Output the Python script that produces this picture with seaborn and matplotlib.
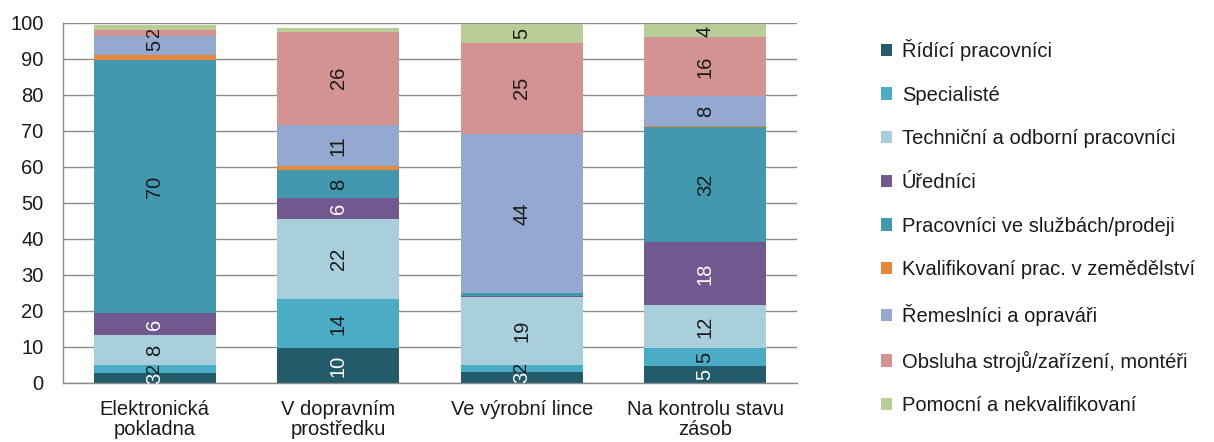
import numpy as np
import matplotlib
matplotlib.use("Agg")
import matplotlib.pyplot as plt
from matplotlib.patches import Patch
import seaborn as sns

# categories (x axis)
categories = ["Elektronická\npokladna", "V dopravním\nprostředku",
              "Ve výrobní lince", "Na kontrolu stavu\nzásob"]

# series names (legend order, bottom -> top in the stack)
series_names = [
    "Řídící pracovníci",
    "Specialisté",
    "Techniční a odborní pracovníci",
    "Úředníci",
    "Pracovníci ve službách/prodeji",
    "Kvalifikovaní prac. v zemědělství",
    "Řemeslníci a opraváři",
    "Obsluha strojů/zařízení, montéři",
    "Pomocní a nekvalifikovaní",
]

# values in % per category
ridici = [2.8, 9.6, 3.1, 4.6]
specialiste = [2.1, 13.6, 2.0, 5.0]
technicni = [8.3, 22.3, 18.7, 12.0]
urednici = [6.2, 5.8, 0.5, 17.7]
sluzby = [70.4, 7.9, 0.7, 31.7]
zemedelstvi = [1.2, 1.1, 0.0, 0.3]
remeslnici = [5.3, 11.4, 44.2, 8.4]
obsluha = [1.8, 25.9, 25.3, 16.3]
pomocni = [1.4, 0.9, 5.3, 3.6]

series_values = [ridici, specialiste, technicni, urednici, sluzby,
                 zemedelstvi, remeslnici, obsluha, pomocni]

colors = ["#235b6a", "#4bacc6", "#a9cfdd", "#71588f", "#4298ae",
          "#e6873a", "#93a9cf", "#d39392", "#b9ce96"]
label_colors = ["white", "#1a1a1a", "#1a1a1a", "white", "#1a1a1a",
                "#1a1a1a", "#1a1a1a", "#1a1a1a", "#1a1a1a"]

sns.set_style("white")
plt.rcParams["font.family"] = ["Liberation Sans", "DejaVu Sans"]
text_color = "#1a1a1a"
grid_color = "#8c8c8c"
fs = 14.5

fig = plt.figure(figsize=(12.14, 4.42), dpi=100)
ax = fig.add_axes([0.0519, 0.1335, 0.6046, 0.8145])

vals = np.array(series_values)
tops = vals.cumsum(axis=0)
bottoms = tops - vals

# stacked bars: draw cumulative totals from top series down
for i in range(len(series_names) - 1, -1, -1):
    sns.barplot(x=categories, y=tops[i], color=colors[i], saturation=1,
                width=0.665, linewidth=0, ax=ax)

# data labels (tiny segments get no label, as in the original)
for i in range(len(series_names)):
    for j in range(len(categories)):
        v = vals[i, j]
        if v < 1.5:
            continue
        size = fs if v >= 2.5 else fs - 1.5
        ax.text(j, bottoms[i, j] + v / 2, f"{v:.0f}", rotation=90,
                ha="center", va="center", fontsize=size,
                color=label_colors[i])

ax.set_ylim(0, 100)
ax.set_xlim(-0.5, 3.5)
ax.set_yticks(np.arange(0, 101, 10))
ax.yaxis.grid(True, color=grid_color, linewidth=1)
ax.set_axisbelow(True)
ax.set_xlabel("")
ax.set_ylabel("")

for side in ["top", "right"]:
    ax.spines[side].set_visible(False)
for side in ["left", "bottom"]:
    ax.spines[side].set_color(grid_color)
    ax.spines[side].set_linewidth(1)

ax.tick_params(axis="y", length=6, width=1, color=grid_color, pad=8,
               labelsize=fs, labelcolor=text_color)
ax.tick_params(axis="x", which="major", length=0, pad=12,
               labelsize=fs, labelcolor=text_color)
for lbl in ax.get_xticklabels():
    lbl.set_linespacing(1.12)
ax.set_xticks(np.arange(-0.5, 4, 1), minor=True)
ax.tick_params(axis="x", which="minor", length=6, width=1, color=grid_color)

handles = [Patch(facecolor=c, edgecolor="none") for c in colors]
fig.legend(handles, series_names, loc="upper left",
           bbox_to_anchor=(0.7105, 0.953), frameon=False, fontsize=fs,
           handlelength=0.55, handleheight=0.55, handletextpad=0.5,
           labelspacing=1.225, labelcolor=text_color)

fig.savefig("out.png", dpi=100)
